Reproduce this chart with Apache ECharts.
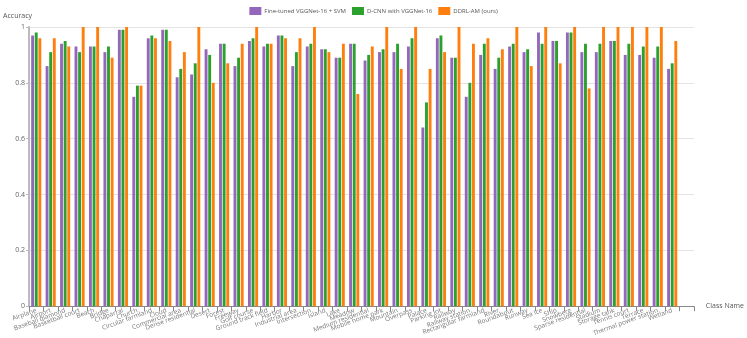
<!DOCTYPE html>
<html>
<head>
<meta charset="utf-8">
<script src="https://cdn.jsdelivr.net/npm/echarts@6/dist/echarts.min.js"></script>
<style>
  html, body { margin: 0; padding: 0; background: #fff; }
  #chart { width: 747px; height: 338px; }
</style>
</head>
<body>
<div id="chart"></div>
<script>
// class names (last one is an empty slot on the axis)
var classNames = [
  "Airplane", "Airport", "Baseball diamond", "Basketball court", "Beach",
  "Bridge", "Chaparral", "Church", "Circular farmland", "Cloud",
  "Commercial area", "Dense residential", "Desert", "Forest", "Freeway",
  "Golf course", "Ground track field", "Harbor", "Industrial area", "Intersection",
  "Island", "Lake", "Meadow", "Medium residential", "Mobile home park",
  "Mountain", "Overpass", "Palace", "Parking lot", "Railway",
  "Railway station", "Rectangular farmland", "River", "Roundabout", "Runway",
  "Sea ice", "Ship", "Snowberg", "Sparse residential", "Stadium",
  "Storage tank", "Tennis court", "Terrace", "Thermal power station", "Wetland",
  ""
];

var vggSvm = [
  0.97, 0.86, 0.94, 0.93, 0.93, 0.91, 0.99, 0.75, 0.96, 0.99,
  0.82, 0.83, 0.92, 0.94, 0.86, 0.95, 0.93, 0.97, 0.86, 0.93,
  0.92, 0.89, 0.94, 0.88, 0.91, 0.91, 0.93, 0.64, 0.96, 0.89,
  0.75, 0.90, 0.85, 0.93, 0.91, 0.98, 0.95, 0.98, 0.91, 0.91,
  0.95, 0.90, 0.90, 0.89, 0.85
];

var dcnn = [
  0.98, 0.91, 0.95, 0.91, 0.93, 0.93, 0.99, 0.79, 0.97, 0.99,
  0.85, 0.87, 0.90, 0.94, 0.89, 0.96, 0.94, 0.97, 0.91, 0.94,
  0.92, 0.89, 0.94, 0.90, 0.92, 0.94, 0.96, 0.73, 0.97, 0.89,
  0.80, 0.94, 0.89, 0.94, 0.92, 0.94, 0.95, 0.98, 0.94, 0.94,
  0.95, 0.94, 0.93, 0.93, 0.87
];

var ddrlAm = [
  0.96, 0.96, 0.93, 1.00, 1.00, 0.89, 1.00, 0.79, 0.96, 0.95,
  0.91, 1.00, 0.80, 0.87, 0.94, 1.00, 0.94, 0.96, 0.96, 1.00,
  0.91, 0.94, 0.76, 0.93, 1.00, 0.85, 1.00, 0.85, 0.91, 1.00,
  0.94, 0.96, 0.92, 1.00, 0.86, 1.00, 0.87, 1.00, 0.78, 1.00,
  1.00, 1.00, 1.00, 1.00, 0.95
];

var yTicks = [0, 0.2, 0.4, 0.6, 0.8, 1];

var chart = echarts.init(document.getElementById("chart"));
var textFont = "Open Sans";

chart.setOption({
  animation: false,
  textStyle: { fontFamily: textFont },
  color: ["#9467bd", "#2ca02c", "#ff7f0e"],
  legend: {
    top: 2,
    left: "center",
    itemWidth: 12,
    itemHeight: 8,
    itemGap: 6,
    icon: "rect",
    textStyle: { fontSize: 6, color: "#555", fontFamily: textFont, padding: [0, 0, 0, -2] },
    data: ["Fine-tuned VGGNet-16 + SVM", "D-CNN with VGGNet-16", "DDRL-AM (ours)"]
  },
  grid: {
    left: 27,
    right: 39,
    top: 27,
    bottom: 26,
    containLabel: false
  },
  xAxis: {
    type: "category",
    data: classNames,
    name: "Class Name",
    nameLocation: "end",
    nameGap: 12,
    nameTextStyle: { fontSize: 7, color: "#555" },
    axisLine: { lineStyle: { color: "#888" } },
    axisTick: { show: true, lineStyle: { color: "#888" } },
    axisLabel: {
      interval: 0,
      rotate: 20,
      fontSize: 6.5,
      color: "#777",
      margin: 4
    }
  },
  yAxis: {
    type: "value",
    min: 0,
    max: 1,
    interval: 0.2,
    name: "Accuracy",
    nameLocation: "end",
    nameGap: 8,
    nameTextStyle: { fontSize: 7, color: "#555", align: "left", padding: [0, 0, 0, -26] },
    axisLine: { show: true, lineStyle: { color: "#bbb", width: 2 } },
    axisTick: { show: true, length: 3, lineStyle: { color: "#bbb" } },
    axisLabel: {
      fontSize: 7,
      color: "#666",
      margin: 4,
      formatter: function (v) {
        return yTicks.indexOf(v) >= 0 ? String(v) : "";
      }
    },
    splitLine: { show: true, lineStyle: { color: "#e3e3e3" } }
  },
  series: [
    {
      name: "Fine-tuned VGGNet-16 + SVM",
      type: "bar",
      barGap: "25%",
      barCategoryGap: "30%",
      data: vggSvm
    },
    {
      name: "D-CNN with VGGNet-16",
      type: "bar",
      barGap: "25%",
      barCategoryGap: "30%",
      data: dcnn
    },
    {
      name: "DDRL-AM (ours)",
      type: "bar",
      barGap: "25%",
      barCategoryGap: "30%",
      data: ddrlAm
    }
  ]
});
</script>
</body>
</html>
